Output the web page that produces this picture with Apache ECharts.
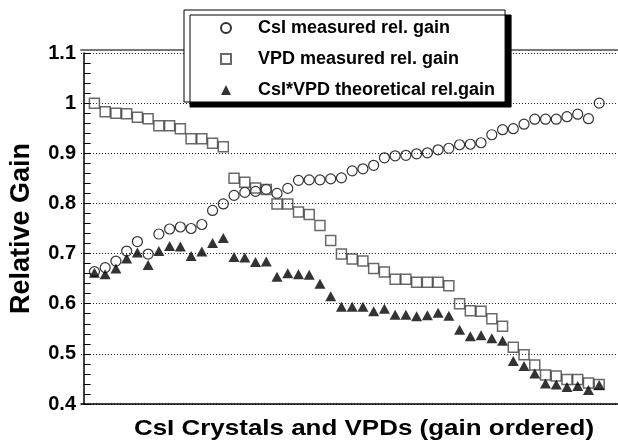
<!DOCTYPE html>
<html><head><meta charset="utf-8">
<script src="https://cdn.jsdelivr.net/npm/echarts@6/dist/echarts.min.js"></script>
<style>html,body{margin:0;padding:0;background:#fff}#c{width:618px;height:440px}</style>
</head><body><div id="c"></div>
<script>
const crystals = [1,2,3,4,5,6,7,8,9,10,11,12,13,14,15,16,17,18,19,20,21,22,23,24,
  25,26,27,28,29,30,31,32,33,34,35,36,37,38,39,40,41,42,43,44,45,46,47,48];
const csiGain = [0.664,0.672,0.685,0.705,0.724,0.699,0.739,0.749,0.753,0.750,0.758,0.786,
  0.799,0.816,0.822,0.824,0.828,0.820,0.830,0.846,0.847,0.847,0.849,0.851,
  0.865,0.869,0.876,0.891,0.895,0.896,0.899,0.901,0.907,0.910,0.917,0.918,
  0.921,0.937,0.947,0.949,0.958,0.968,0.968,0.968,0.973,0.978,0.969,1.000];
const vpdGain = [1.000,0.983,0.980,0.979,0.972,0.969,0.955,0.955,0.949,0.929,0.929,0.920,
  0.913,0.850,0.842,0.831,0.828,0.799,0.799,0.783,0.778,0.756,0.726,0.699,
  0.689,0.685,0.670,0.663,0.649,0.649,0.643,0.643,0.643,0.636,0.600,0.586,
  0.585,0.570,0.555,0.513,0.498,0.478,0.458,0.456,0.449,0.449,0.442,0.439];
const theoGain = [0.662,0.659,0.670,0.690,0.702,0.677,0.705,0.715,0.714,0.695,0.704,0.721,
  0.731,0.693,0.692,0.683,0.684,0.654,0.661,0.659,0.658,0.640,0.615,0.594,
  0.594,0.594,0.585,0.590,0.578,0.578,0.575,0.577,0.582,0.576,0.548,0.535,
  0.537,0.531,0.526,0.486,0.476,0.461,0.441,0.439,0.434,0.436,0.428,0.438];
const seriesNames = ['CsI measured rel. gain', 'VPD measured rel. gain', 'CsI*VPD theoretical rel.gain'];
const xTitle = 'CsI Crystals and VPDs (gain ordered)';
const yTitle = 'Relative Gain';

const FONT = '"Liberation Sans", Arial, Helvetica, sans-serif';
const pairs = arr => crystals.map((c, i) => [c, arr[i]]);

const chart = echarts.init(document.getElementById('c'), null, {renderer: 'canvas'});
chart.setOption({
  animation: false,
  backgroundColor: '#fff',
  grid: {left: 81, right: 0, top: 53, bottom: 36},
  legend: {
    orient: 'vertical', left: 184, top: 10,
    padding: [9, 10, 3, 36],
    itemGap: 13, itemWidth: 10, itemHeight: 10,
    backgroundColor: '#fff', borderColor: '#000', borderWidth: 1,
    shadowColor: '#000', shadowBlur: 0, shadowOffsetX: 6, shadowOffsetY: 5,
    textStyle: {fontFamily: FONT, fontWeight: 'bold', fontSize: 18, color: '#000',
      padding: [0, 0, 0, 22], lineHeight: 17},
    data: seriesNames
  },
  graphic: [{
    type: 'text', x: 364, y: 429, scaleX: 1.18,
    style: {text: xTitle, font: 'bold 22px ' + FONT, fill: '#000',
      textAlign: 'center', textVerticalAlign: 'middle'}
  }],
  xAxis: [{
    type: 'value', min: -0.25, max: 49.75,
    axisLine: {show: true, onZero: false, lineStyle: {color: '#000', width: 1.5}},
    axisTick: {show: false}, axisLabel: {show: false}, splitLine: {show: false}
  }, {
    type: 'value', min: -0.25, max: 49.75, position: 'top', offset: 3,
    axisLine: {show: true, onZero: false, lineStyle: {color: '#777', width: 2}},
    axisTick: {show: false}, axisLabel: {show: false}, splitLine: {show: false}
  }],
  yAxis: {
    type: 'value', min: 0.4, max: 1.1, interval: 0.1,
    axisLine: {show: true, lineStyle: {color: '#000', width: 1.5}},
    axisTick: {show: true, inside: true, length: 7, lineStyle: {color: '#000'}},
    minorTick: {show: true, splitNumber: 5, length: 7, lineStyle: {color: '#000'}},
    axisLabel: {fontFamily: FONT, fontWeight: 'bold', fontSize: 20, color: '#000', margin: 5,
      formatter: v => String(+v.toFixed(1))},
    splitLine: {show: true, lineStyle: {type: [1, 2], color: '#222', width: 1}},
    name: yTitle, nameLocation: 'middle', nameGap: 46, nameRotate: 90,
    nameTextStyle: {fontFamily: FONT, fontWeight: 'bold', fontSize: 27, color: '#000'}
  },
  series: [{
    name: seriesNames[0], type: 'scatter', data: pairs(csiGain),
    symbol: 'circle', symbolSize: 10,
    itemStyle: {color: 'rgba(255,255,255,0)', borderColor: '#000', borderWidth: 1.2}
  }, {
    name: seriesNames[1], type: 'scatter', data: pairs(vpdGain),
    symbol: 'rect', symbolSize: 10,
    itemStyle: {color: 'rgba(255,255,255,0)', borderColor: '#444', borderWidth: 1.5}
  }, {
    name: seriesNames[2], type: 'scatter', data: pairs(theoGain),
    symbol: 'triangle', symbolSize: [11, 10],
    itemStyle: {color: '#000'}
  }]
});
</script>
</body></html>
